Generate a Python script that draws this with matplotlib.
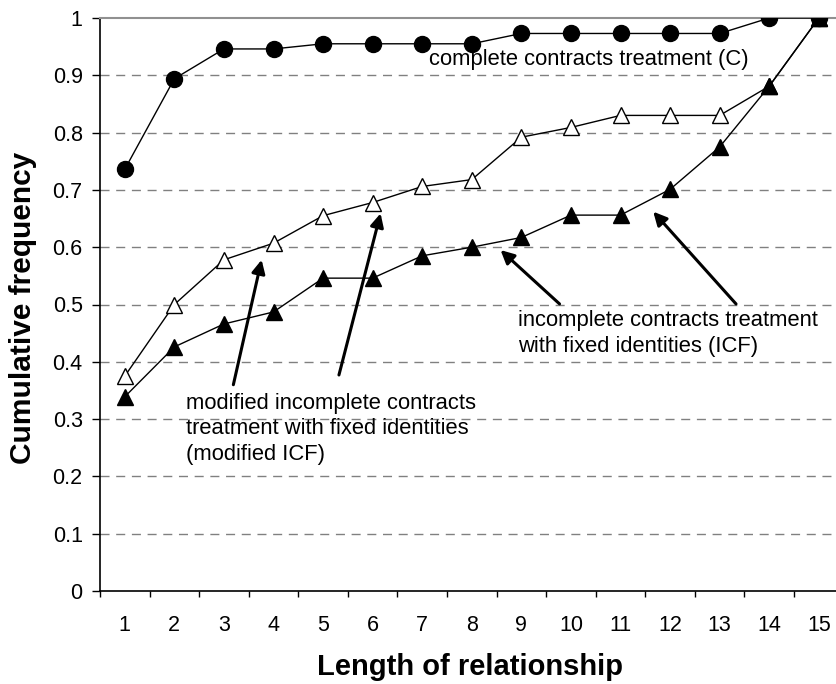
import numpy as np
import matplotlib
matplotlib.use("Agg")
import matplotlib.pyplot as plt

plt.rcParams["font.family"] = ["Liberation Sans", "DejaVu Sans"]

# data
lengths = list(range(1, 16))
complete_c = [0.736, 0.894, 0.946, 0.946, 0.955, 0.955, 0.955, 0.955,
              0.973, 0.973, 0.973, 0.973, 0.973, 1.0, 1.0]
icf = [0.339, 0.426, 0.466, 0.487, 0.546, 0.546, 0.585, 0.600,
       0.617, 0.656, 0.656, 0.701, 0.775, 0.881, 1.0]
modified_icf = [0.375, 0.500, 0.578, 0.607, 0.655, 0.678, 0.706, 0.718,
                0.792, 0.809, 0.830, 0.830, 0.830, 0.881, 1.0]
y_ticks = [round(0.1 * i, 1) for i in range(11)]
y_tick_labels = ["0", "0.1", "0.2", "0.3", "0.4", "0.5", "0.6", "0.7", "0.8", "0.9", "1"]

W, H = 837, 684
fig = plt.figure(figsize=(W / 100, H / 100), dpi=100)
ax = fig.add_axes([100 / W, 93 / H, 743.6 / W, 573 / H])

# gridlines (dashed grey)
for yv in y_ticks[1:-1]:
    ax.axhline(yv, color="#808080", lw=1.0, dashes=(6.5, 4.8), zorder=1)

ax.plot(lengths, modified_icf, "-", color="black", lw=1.0, marker="^", ms=11,
        mfc="white", mec="black", mew=1.0, zorder=3)
ax.plot(lengths, icf, "-", color="black", lw=1.0, marker="^", ms=11,
        mfc="black", mec="black", zorder=4)
ax.plot(lengths, complete_c, "-", color="black", lw=1.0, marker="o", ms=11.5,
        mfc="black", mec="black", zorder=5)

ax.set_xlim(0.5, 15.5)
ax.set_ylim(0, 1)

ax.set_xticks(lengths)
ax.set_xticklabels([str(v) for v in lengths])
ax.set_xticks(np.arange(0.5, 16, 1.0), minor=True)
ax.tick_params(axis="x", which="major", length=0, pad=17, labelsize=15.5)
ax.tick_params(axis="x", which="minor", length=4.5, width=1.0, direction="out")
ax.set_yticks(y_ticks)
ax.set_yticklabels(y_tick_labels)
ax.tick_params(axis="y", length=5.5, width=1.0, direction="out", pad=7, labelsize=15.5)

ax.spines["right"].set_visible(False)
ax.spines["top"].set_color("#909090")
ax.spines["top"].set_linewidth(1.5)
ax.spines["left"].set_linewidth(1.2)
ax.spines["bottom"].set_linewidth(1.2)

fig.text(469.7 / W, 1 - 667 / H, "Length of relationship", ha="center", va="center",
         fontsize=21, fontweight="bold")
fig.text(23 / W, 1 - 308 / H, "Cumulative frequency", ha="center", va="center",
         rotation=90, fontsize=21.5, fontweight="bold")

# annotations
ax.text(7.13, 0.928, "complete contracts treatment (C)", ha="left", va="center",
        fontsize=15.8)
ax.text(8.94, 0.449, "incomplete contracts treatment\nwith fixed identities (ICF)",
        ha="left", va="center", fontsize=15.8, linespacing=1.3)
ax.text(2.23, 0.283, "modified incomplete contracts\ntreatment with fixed identities\n(modified ICF)",
        ha="left", va="center", fontsize=15.8, linespacing=1.3)

arrows = [((3.19, 0.360), (3.76, 0.578)),
          ((5.32, 0.377), (6.16, 0.659)),
          ((9.77, 0.501), (8.58, 0.595)),
          ((13.33, 0.501), (11.66, 0.662))]
for tail, head in arrows:
    ax.annotate("", xy=head, xytext=tail,
                arrowprops=dict(arrowstyle="-|>", lw=2.2, color="black",
                                mutation_scale=20, shrinkA=0, shrinkB=0))

fig.savefig("out.png", dpi=100)
